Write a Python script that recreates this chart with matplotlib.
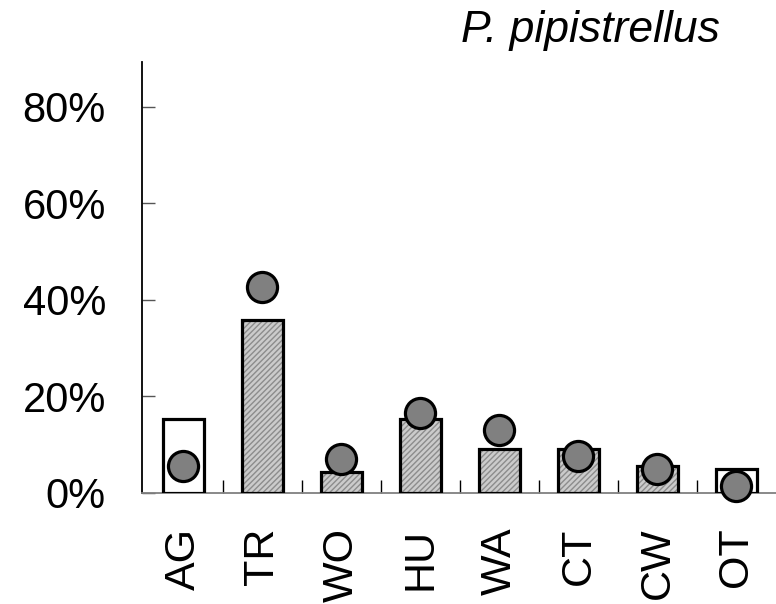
import matplotlib
matplotlib.use("Agg")
import matplotlib.pyplot as plt
from matplotlib.ticker import PercentFormatter, FixedLocator

plt.rcParams['font.family'] = ['Liberation Sans', 'DejaVu Sans']

# habitat categories and use / availability values (%)
categories = ['AG', 'TR', 'WO', 'HU', 'WA', 'CT', 'CW', 'OT']
available = [15.3, 35.9, 4.4, 15.3, 9.1, 9.1, 5.6, 5.0]
used = [5.6, 42.7, 7.0, 16.6, 13.1, 7.7, 5.0, 1.5]
hollow = ['AG', 'OT']
y_ticks = [0, 20, 40, 60, 80]

fig = plt.figure(figsize=(7.76, 6.04), dpi=100)
ax = fig.add_axes([142 / 776, 1 - 493 / 604, 1 - 142 / 776, (493 - 62) / 604])

x = list(range(len(categories)))
width = 0.52
fills = ['white' if c in hollow else '#cbcbcb' for c in categories]

# hatched fill first, then the black outline on top
for xi, h, fc, c in zip(x, available, fills, categories):
    ax.bar(xi, h, width=width, color=fc, edgecolor='#8c8c8c', linewidth=0,
           hatch=None if c in hollow else '//////', zorder=2)
ax.bar(x, available, width=width, facecolor='none', edgecolor='black',
       linewidth=2.3, zorder=3)

ax.scatter(x, used, s=470, color='#808080', edgecolor='black',
           linewidth=2.3, zorder=4, clip_on=False)

ax.set_xlim(-0.525, 7.5)
ax.set_ylim(0, 89.3)

ax.yaxis.set_major_locator(FixedLocator(y_ticks))
ax.yaxis.set_major_formatter(PercentFormatter(decimals=0))
ax.tick_params(axis='y', direction='in', length=9.5, width=1, color='#555555',
               labelsize=30, pad=26)

ax.set_xticks(x)
ax.set_xticklabels(categories, rotation=90, fontsize=31)
ax.set_xticks([i + 0.5 for i in x[:-1]], minor=True)
ax.tick_params(axis='x', which='major', length=0, pad=25)
ax.tick_params(axis='x', which='minor', direction='in', length=9.5,
               width=1, color='black')

for side in ['top', 'right']:
    ax.spines[side].set_visible(False)
ax.spines['left'].set_linewidth(1.3)
ax.spines['bottom'].set_color('#808080')
ax.spines['bottom'].set_linewidth(1.3)

fig.text(720 / 776, 1 - 42 / 604, 'P. pipistrellus', fontsize=32,
         style='italic', ha='right', va='baseline')

fig.savefig('out.png', dpi=100)
